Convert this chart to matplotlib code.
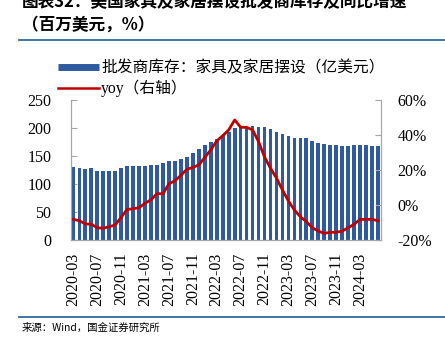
import numpy as np
import pandas as pd
import matplotlib
matplotlib.use('Agg')
import matplotlib.pyplot as plt
from matplotlib.lines import Line2D

# data
months = pd.date_range('2020-03-01', periods=52, freq='MS')
inventory = [130, 128, 126, 128, 124, 124, 124, 124, 128, 132,
             132, 132, 132, 134, 134, 137, 141, 141, 145, 149,
             156, 162, 169, 175, 181, 188, 193, 200, 201, 202,
             204, 202, 201, 198, 192, 189, 185, 183, 183, 183,
             176, 174, 172, 170, 170, 168, 168, 170, 170, 170,
             168, 168]
yoy = [-8.2, -9.0, -10.8, -11.0, -13.0, -13.3, -12.4, -11.4, -7.0, -2.5,
       -2.2, -1.5, 1.0, 3.0, 6.5, 6.4, 12.2, 13.8, 17.0, 20.4,
       21.5, 22.9, 27.2, 31.5, 36.6, 39.6, 42.9, 48.6, 44.4, 44.4,
       42.9, 36.2, 27.4, 21.0, 15.4, 8.6, 2.3, -2.9, -6.7, -9.5,
       -13.0, -14.9, -16.2, -15.6, -15.6, -14.9, -13.0, -11.0, -8.2, -8.2,
       -8.2, -9.0]
tick_idx = list(range(0, 52, 4))
tick_labels = [months[i].strftime('%Y-%m') for i in tick_idx]

bar_color = '#2f5aa0'
line_color = '#c00000'
spine_color = '#a6a6a6'
serif_cjk = ['Liberation Serif', 'Noto Sans CJK SC']

fig = plt.figure(figsize=(4.45, 3.37), dpi=100)
ax = fig.add_axes([71/445, 1-240/337, 310/445, 140/337])
ax2 = ax.twinx()

x = np.arange(len(inventory))
ax.bar(x, inventory, width=0.62, color=bar_color, zorder=2)
ax2.plot(x, yoy, color=line_color, lw=2, zorder=3)

ax.set_xlim(-0.4, 51.5)
ax.set_ylim(0, 250)
ax.set_yticks(range(0, 251, 50))
ax2.set_ylim(-20, 60)
ax2.set_yticks(range(-20, 61, 20))
ax2.set_yticklabels([f'{v}%' for v in range(-20, 61, 20)])
ax.set_xticks(tick_idx)
ax.set_xticklabels(tick_labels, rotation=90)

for a in (ax, ax2):
    a.spines['top'].set_visible(False)
    for s in ('left', 'right', 'bottom'):
        a.spines[s].set_color(spine_color)
for lbl in ax.get_xticklabels() + ax.get_yticklabels() + ax2.get_yticklabels():
    lbl.set_fontfamily('Liberation Serif')
    lbl.set_fontsize(11.5)
ax.tick_params(axis='y', direction='in', length=4, color=spine_color, pad=14)
ax.tick_params(axis='x', direction='in', length=3, color=spine_color, pad=9)
ax2.tick_params(axis='y', direction='in', length=4, color=spine_color, pad=12)
ax2.set_zorder(ax.get_zorder() + 1)
ax2.patch.set_visible(False)

# legend
handles = [Line2D([], [], color=bar_color, lw=5, solid_capstyle='butt'),
           Line2D([], [], color=line_color, lw=1.8)]
labels = ['批发商库存：家具及家居摆设（亿美元）', 'yoy（右轴）']
fig.legend(handles, labels, loc='upper left', bbox_to_anchor=(58/445, 1-60/337),
           frameon=False, handlelength=2.6, handletextpad=0.15, labelspacing=0.25,
           prop={'family': serif_cjk, 'size': 11.3}, borderaxespad=0, borderpad=0)

# title, rules and source
fig.text(22/445, 1-2/337, '图表32：美国家具及家居摆设批发商库存及同比增速', fontsize=12,
         fontweight='bold', family=['Noto Sans CJK SC'], va='center', ha='left')
fig.text(22/445, 1-25/337, '（百万美元，%）', fontsize=12, fontweight='bold',
         family=['Noto Sans CJK SC'], va='center', ha='left')
fig.add_artist(Line2D([19/445, 1], [1-39.5/337, 1-39.5/337], color='#2e6b9e', lw=1.3))
fig.add_artist(Line2D([19/445, 1], [1-316.5/337, 1-316.5/337], color='#2e6b9e', lw=1.3))
fig.text(22/445, 1-328/337, '来源：Wind，国金证券研究所', fontsize=7.5,
         family=['Noto Sans CJK SC', 'DejaVu Sans'], va='center', ha='left')

fig.savefig('out.png', dpi=100)
